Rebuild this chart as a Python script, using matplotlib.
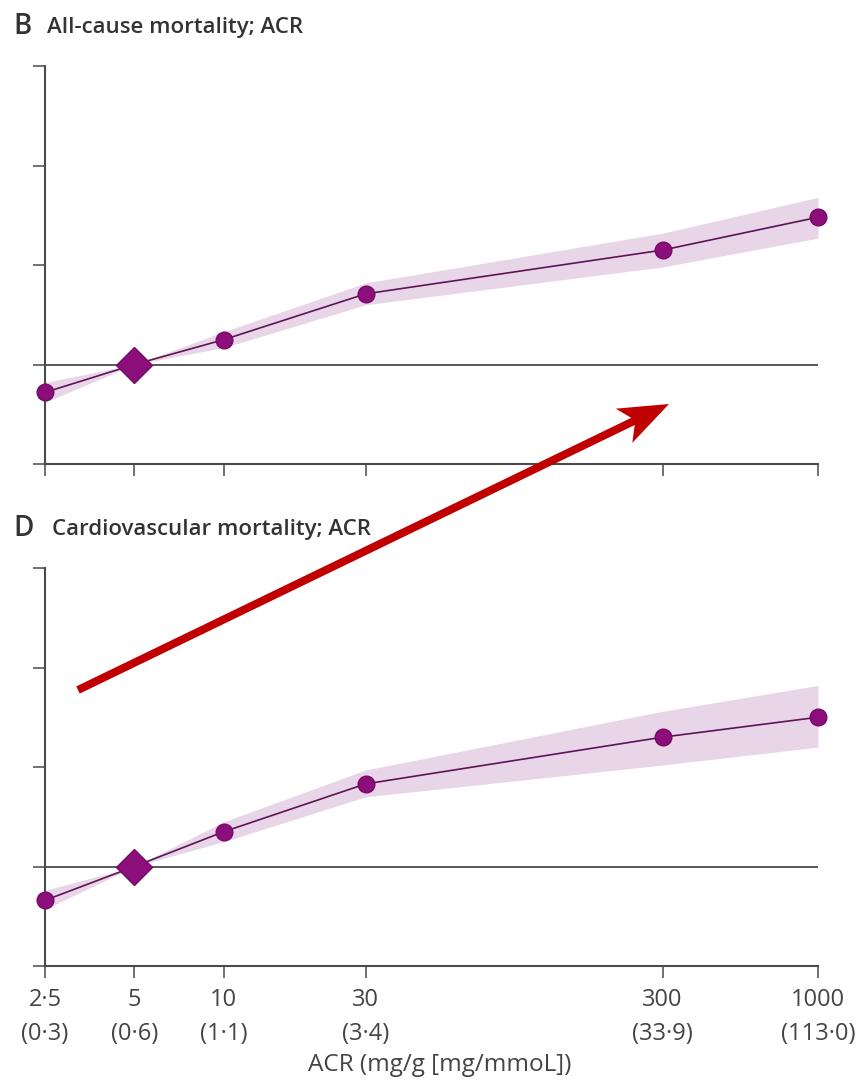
import numpy as np
import matplotlib
matplotlib.use("Agg")
import matplotlib.pyplot as plt
from matplotlib.patches import Polygon
from matplotlib.ticker import NullLocator, FixedLocator

plt.rcParams['font.family'] = ['Open Sans', 'DejaVu Sans']

# ACR categories (mg/g) and their mg/mmol equivalents
acr = [2.5, 5, 10, 30, 300, 1000]
acr_text = ["2·5", "5", "10", "30", "300", "1000"]
acr_mmol = ["0·3", "0·6", "1·1", "3·4", "33·9", "113·0"]
ref_index = 1  # 5 mg/g is the reference category

# Panel B: all-cause mortality (log hazard ratio scale)
allcause_est = [-0.28, 0.0, 0.25, 0.71, 1.15, 1.48]
allcause_lo = [-0.38, 0.0, 0.17, 0.60, 0.98, 1.27]
allcause_hi = [-0.18, 0.0, 0.33, 0.82, 1.32, 1.68]

# Panel D: cardiovascular mortality
cv_est = [-0.34, 0.0, 0.35, 0.83, 1.30, 1.50]
cv_lo = [-0.43, 0.0, 0.25, 0.70, 1.02, 1.20]
cv_hi = [-0.24, 0.0, 0.45, 0.97, 1.56, 1.82]

y_ticks = [-1, 0, 1, 2, 3]

W, H = 856, 1083
AXIS = "#4a4a4a"
TEXT = "#333333"
LINE = "#5e1454"
DOT = "#8b0e7a"
DOT_EDGE = "#760a68"
BAND = "#e8d6e8"

fig = plt.figure(figsize=(W / 100, H / 100), dpi=100)


def px_box(left, top, right, bottom):
    return [left / W, 1 - bottom / H, (right - left) / W, (bottom - top) / H]


def draw_panel(ax, est, lo, hi, show_labels):
    ax.set_xscale("log")
    ax.set_xlim(acr[0], acr[-1])
    ax.set_ylim(y_ticks[0], y_ticks[-1])
    for side in ("top", "right"):
        ax.spines[side].set_visible(False)
    for side in ("left", "bottom"):
        ax.spines[side].set_color(AXIS)
        ax.spines[side].set_linewidth(1.5)
    ax.xaxis.set_major_locator(FixedLocator(acr))
    ax.xaxis.set_minor_locator(NullLocator())
    ax.yaxis.set_major_locator(FixedLocator(y_ticks))
    ax.yaxis.set_minor_locator(NullLocator())
    ax.set_yticklabels([])
    if show_labels:
        ax.set_xticklabels([f"{a}\n({b})" for a, b in zip(acr_text, acr_mmol)],
                           linespacing=1.55)
    else:
        ax.set_xticklabels([])
    ax.tick_params(axis="both", direction="out", length=8.6, width=1.1,
                   color=AXIS, pad=7, labelsize=17, labelcolor="#444444")

    ax.axhline(0, color=AXIS, lw=1.3, zorder=1)
    ax.fill_between(acr, lo, hi, color=BAND, lw=0, zorder=2)
    ax.plot(acr, est, color=LINE, lw=1.2, zorder=3)
    xs = [x for i, x in enumerate(acr) if i != ref_index]
    ys = [y for i, y in enumerate(est) if i != ref_index]
    ax.plot(xs, ys, "o", ms=12, mfc=DOT, mec=DOT_EDGE, mew=1,
            zorder=4, clip_on=False)
    ax.plot(acr[ref_index], est[ref_index], "D", ms=18, mfc=DOT,
            mec=DOT_EDGE, mew=1, zorder=5, clip_on=False)


ax_b = fig.add_axes(px_box(45, 66, 818, 464))
draw_panel(ax_b, allcause_est, allcause_lo, allcause_hi, False)

ax_d = fig.add_axes(px_box(45, 568, 818, 966))
draw_panel(ax_d, cv_est, cv_lo, cv_hi, True)

# panel titles
fig.text(13 / W, 1 - 34 / H, "B", fontsize=20, fontweight="semibold",
         color=TEXT, va="baseline")
fig.text(47 / W, 1 - 33 / H, "All-cause mortality; ACR", fontsize=16,
         fontweight="semibold", color=TEXT, va="baseline")
fig.text(13 / W, 1 - 536 / H, "D", fontsize=20, fontweight="semibold",
         color=TEXT, va="baseline")
fig.text(52 / W, 1 - 535 / H, "Cardiovascular mortality; ACR", fontsize=16,
         fontweight="semibold", color=TEXT, va="baseline")

fig.text(440 / W, 1 - 1065 / H, "ACR (mg/g [mg/mmoL])", fontsize=17.5,
         color="#444444", ha="center", va="center")

# red arrow across the figure
tail = np.array([78.0, 690.0])
tip = np.array([669.0, 404.0])
d = (tip - tail) / np.linalg.norm(tip - tail)
n = np.array([-d[1], d[0]])
shaft_half = 4.0
head_len = 50.0
head_half = 19.0
notch = 40.0
pts = [
    tail + n * shaft_half,
    tip - d * notch + n * shaft_half,
    tip - d * head_len + n * head_half,
    tip,
    tip - d * head_len - n * head_half,
    tip - d * notch - n * shaft_half,
    tail - n * shaft_half,
]
pts = [(p[0] / W, 1 - p[1] / H) for p in pts]
fig.patches.append(Polygon(pts, closed=True, transform=fig.transFigure,
                           facecolor="#c00000", edgecolor="none", zorder=10))

fig.savefig("out.png", dpi=100, facecolor="white")
